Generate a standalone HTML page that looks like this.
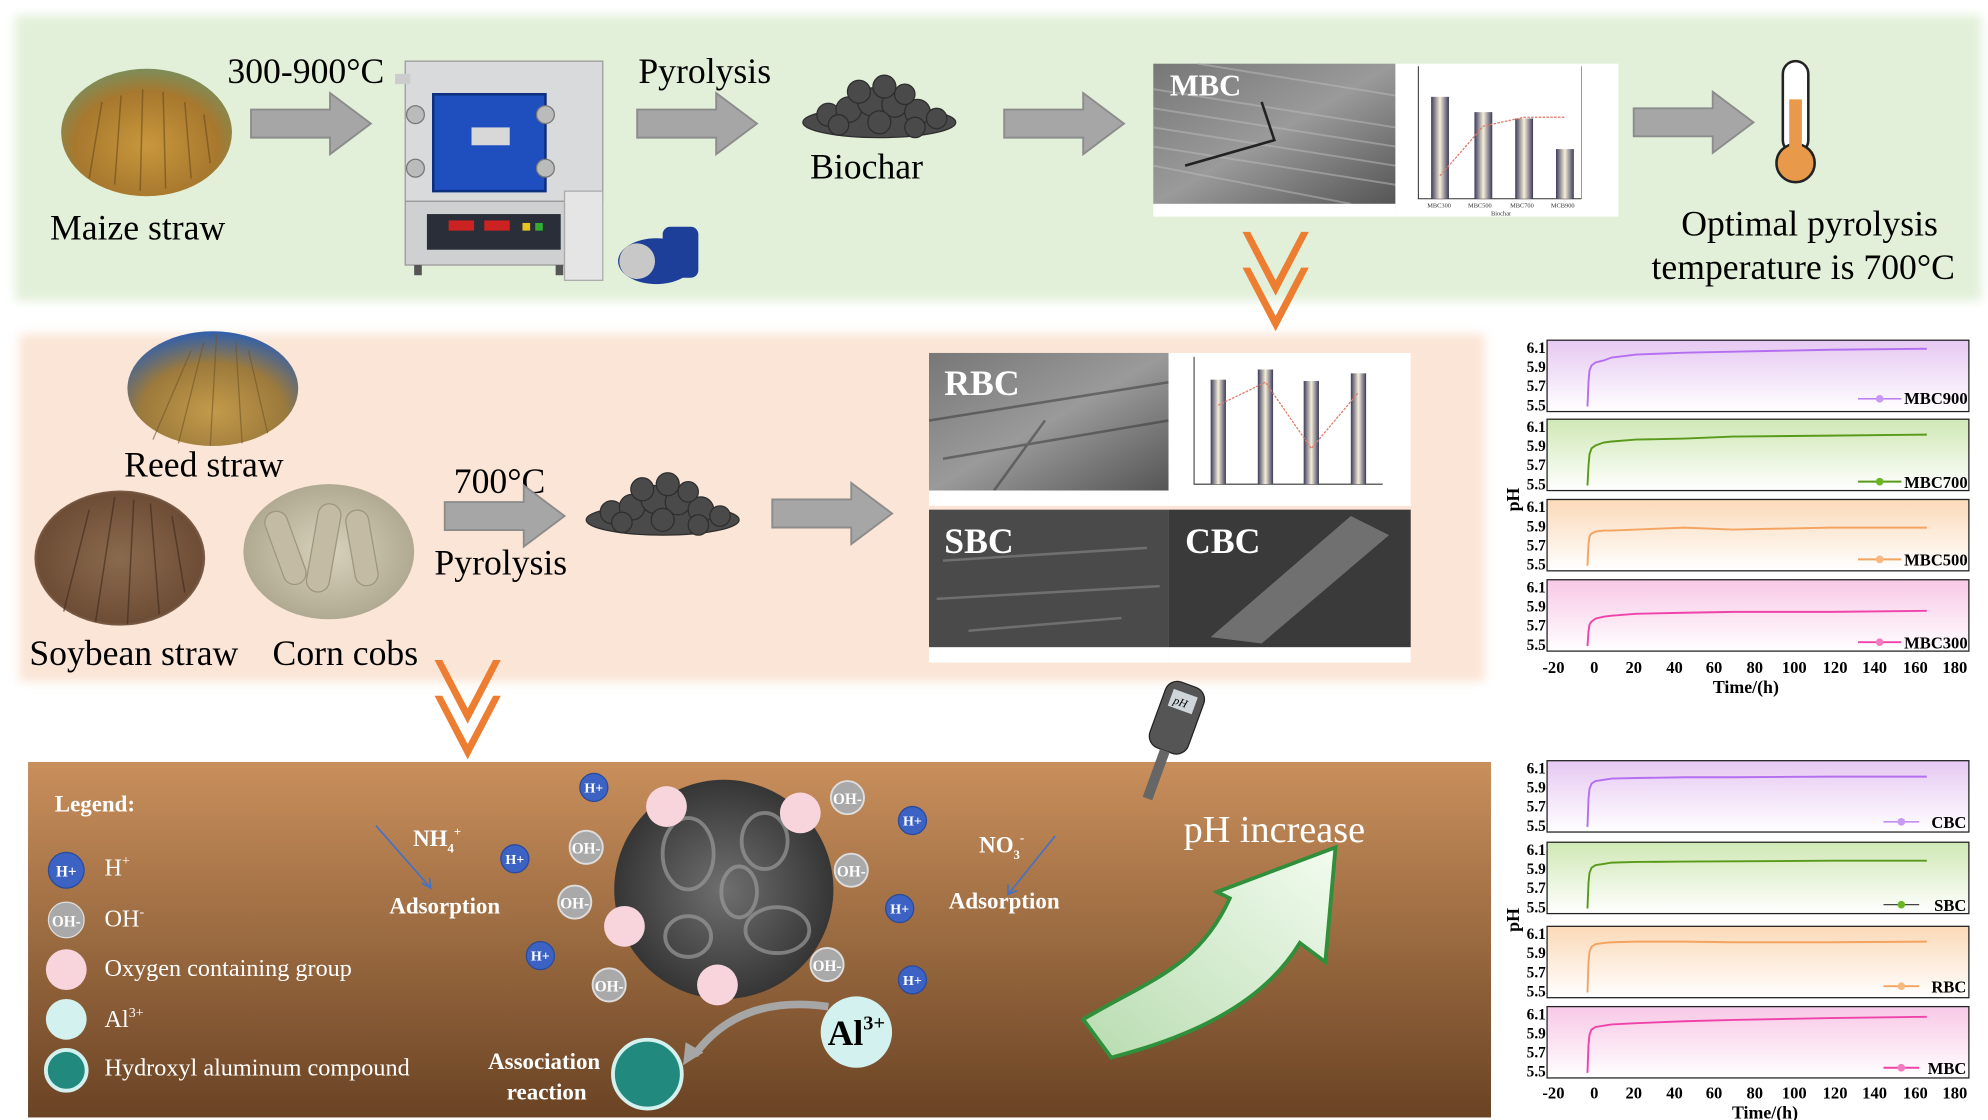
<!DOCTYPE html>
<html><head><meta charset="utf-8"><style>
html,body{margin:0;padding:0;background:#fff;width:1988px;height:1120px;overflow:hidden}
svg{display:block}
text{font-family:"Liberation Serif",serif}
</style></head><body>
<svg width="1988" height="1120" viewBox="0 0 1560 879" preserveAspectRatio="none" xmlns="http://www.w3.org/2000/svg">
<defs>
<filter id="blur" x="-5%" y="-5%" width="110%" height="110%"><feGaussianBlur stdDeviation="4"/></filter>
<linearGradient id="brown" x1="0" y1="0" x2="0" y2="1"><stop offset="0" stop-color="#c98f5c"/><stop offset="0.5" stop-color="#9a6a40"/><stop offset="1" stop-color="#6a4324"/></linearGradient>
<radialGradient id="maize" cx="0.5" cy="0.6" r="0.6"><stop offset="0" stop-color="#c8973c"/><stop offset="0.7" stop-color="#a7782e"/><stop offset="1" stop-color="#7d8d5a"/></radialGradient>
<radialGradient id="reed" cx="0.5" cy="0.7" r="0.7"><stop offset="0" stop-color="#c49a4a"/><stop offset="0.6" stop-color="#9c7a3c"/><stop offset="1" stop-color="#2f5fae"/></radialGradient>
<radialGradient id="soy" cx="0.5" cy="0.5" r="0.6"><stop offset="0" stop-color="#8a6a4e"/><stop offset="0.8" stop-color="#6e4d36"/><stop offset="1" stop-color="#c7bdb3"/></radialGradient>
<radialGradient id="cob" cx="0.5" cy="0.5" r="0.6"><stop offset="0" stop-color="#d8d2bd"/><stop offset="1" stop-color="#a9a28a"/></radialGradient>
<radialGradient id="sem" cx="0.5" cy="0.5" r="0.6"><stop offset="0" stop-color="#6f6f6f"/><stop offset="1" stop-color="#2a2a2a"/></radialGradient>
<linearGradient id="semr" x1="0" y1="0" x2="1" y2="1"><stop offset="0" stop-color="#777"/><stop offset="0.5" stop-color="#9a9a9a"/><stop offset="1" stop-color="#555"/></linearGradient>
<linearGradient id="bar" x1="0" y1="0" x2="1" y2="0"><stop offset="0" stop-color="#3b3b5c"/><stop offset="0.5" stop-color="#f5eed8"/><stop offset="1" stop-color="#3b3b5c"/></linearGradient>
<linearGradient id="gp" x1="0" y1="0" x2="0" y2="1"><stop offset="0" stop-color="#e6c8f2"/><stop offset="1" stop-color="#fff"/></linearGradient>
<linearGradient id="gg" x1="0" y1="0" x2="0" y2="1"><stop offset="0" stop-color="#cfe8b4"/><stop offset="1" stop-color="#fff"/></linearGradient>
<linearGradient id="go" x1="0" y1="0" x2="0" y2="1"><stop offset="0" stop-color="#fbd9b8"/><stop offset="1" stop-color="#fff"/></linearGradient>
<linearGradient id="gk" x1="0" y1="0" x2="0" y2="1"><stop offset="0" stop-color="#f8c8e6"/><stop offset="1" stop-color="#fff"/></linearGradient>
<linearGradient id="garrow" x1="0" y1="1" x2="1" y2="0"><stop offset="0" stop-color="#b8dcb0"/><stop offset="1" stop-color="#f2fbef"/></linearGradient>
<g id="arr"><path d="M0,-11 H62 V-24 L94,0 L62,24 V11 H0 Z" fill="#a6a6a6" stroke="#8c8c8c" stroke-width="1.5"/></g>
<g id="chev"><path d="M0,0 L26,50 L52,0 L46,0 L26,38 L6,0Z" fill="#ed7d31"/><path d="M0,28 L26,78 L52,28 L46,28 L26,66 L6,28Z" fill="#ed7d31"/></g>
<g id="pile"><g fill="#4a4a4a" stroke="#2e2e2e" stroke-width="1">
<ellipse cx="60" cy="36" rx="60" ry="12"/><circle cx="20" cy="30" r="9"/><circle cx="36" cy="26" r="10"/><circle cx="54" cy="20" r="11"/><circle cx="72" cy="22" r="10"/><circle cx="90" cy="28" r="10"/><circle cx="105" cy="33" r="8"/><circle cx="44" cy="12" r="9"/><circle cx="64" cy="8" r="9"/><circle cx="80" cy="14" r="8"/><circle cx="28" cy="38" r="8"/><circle cx="60" cy="36" r="9"/><circle cx="88" cy="40" r="8"/></g></g>
</defs>

<rect x="12" y="12" width="1543" height="224" fill="#e2f0d9" filter="url(#blur)"/>
<rect x="15" y="262" width="1150" height="273" fill="#fbe5d6" filter="url(#blur)"/>
<rect x="22" y="598" width="1148" height="279" fill="url(#brown)"/>

<ellipse cx="115" cy="104" rx="67" ry="50" fill="url(#maize)"/>
<g stroke="#6b4c1c" stroke-width="1.2" opacity="0.6"><path d="M70,140 L80,80 M90,145 L95,75 M110,150 L112,70 M130,148 L128,72 M150,140 L145,80 M165,128 L160,90"/></g>
<text x="108" y="188" font-size="28" text-anchor="middle">Maize straw</text>
<text x="240" y="65" font-size="28" text-anchor="middle">300-900°C</text>
<use href="#arr" x="197" y="97"/>
<rect x="318" y="48" width="155" height="110" fill="#d9dadc" stroke="#9a9a9a"/>
<rect x="310" y="58" width="12" height="8" fill="#ccc"/>
<rect x="340" y="74" width="88" height="76" fill="#1f4fbf" stroke="#0d2f80" stroke-width="2"/>
<rect x="370" y="100" width="30" height="14" fill="#d8d8d8"/>
<circle cx="326" cy="90" r="7" fill="#bbb" stroke="#777"/><circle cx="326" cy="132" r="7" fill="#bbb" stroke="#777"/>
<circle cx="428" cy="90" r="7" fill="#bbb" stroke="#777"/><circle cx="428" cy="132" r="7" fill="#bbb" stroke="#777"/>
<rect x="318" y="158" width="125" height="50" fill="#cfd0d2" stroke="#999"/>
<rect x="335" y="168" width="105" height="28" fill="#2a2e38"/>
<rect x="352" y="173" width="20" height="8" fill="#c22"/><rect x="380" y="173" width="20" height="8" fill="#c22"/><rect x="410" y="175" width="6" height="6" fill="#e8c320"/><rect x="420" y="175" width="6" height="6" fill="#3a3"/>
<rect x="325" y="208" width="6" height="8" fill="#555"/><rect x="436" y="208" width="6" height="8" fill="#555"/>
<rect x="443" y="150" width="30" height="70" fill="#e5e5e5" stroke="#aaa"/>
<ellipse cx="515" cy="205" rx="30" ry="18" fill="#1d3f9a"/><rect x="520" y="178" width="28" height="40" rx="6" fill="#1d3f9a"/><ellipse cx="500" cy="205" rx="14" ry="14" fill="#c8c8c8"/>
<text x="553" y="65" font-size="28" text-anchor="middle">Pyrolysis</text>
<use href="#arr" x="500" y="97"/>
<use href="#pile" x="630" y="60"/>
<text x="680" y="140" font-size="28" text-anchor="middle">Biochar</text>
<use href="#arr" x="788" y="97"/>
<rect x="905" y="50" width="190" height="110" fill="url(#semr)"/>
<g stroke="#bbb" stroke-width="1.5" opacity="0.5"><path d="M905,70 L1095,100 M905,85 L1095,115 M905,100 L1095,130 M905,115 L1095,145 M905,130 L1060,160 M940,50 L1095,75"/></g>
<path d="M990,80 L1000,110 L930,130" stroke="#222" stroke-width="2" fill="none"/>
<rect x="905" y="160" width="190" height="10" fill="#fff"/>
<text x="918" y="75" font-size="24" fill="#fff" font-weight="bold">MBC</text>
<rect x="1095" y="50" width="175" height="120" fill="#fff"/>
<g stroke="#333" stroke-width="0.8" fill="none"><path d="M1113,52 V156 H1241"/></g><path d="M1241,52 V156" stroke="#e08070" stroke-width="0.8"/>
<rect x="1123" y="76" width="14" height="80" fill="url(#bar)"/><rect x="1157" y="88" width="14" height="68" fill="url(#bar)"/><rect x="1189" y="93" width="14" height="63" fill="url(#bar)"/><rect x="1221" y="117" width="14" height="39" fill="url(#bar)"/>
<polyline points="1130,138 1164,99 1196,92 1228,92" fill="none" stroke="#e07a6a" stroke-dasharray="2,1"/>
<g font-size="5" fill="#333"><text x="1120" y="163">MBC300</text><text x="1152" y="163">MBC500</text><text x="1185" y="163">MBC700</text><text x="1217" y="163">MCB900</text><text x="1170" y="169">Biochar</text></g>
<use href="#arr" x="1282" y="96"/>
<rect x="1399" y="48" width="20" height="72" rx="10" fill="#fff" stroke="#222" stroke-width="2"/>
<circle cx="1409" cy="128" r="15" fill="#e89a4a" stroke="#222" stroke-width="2"/>
<rect x="1404" y="78" width="10" height="46" fill="#e89a4a"/>
<text x="1420" y="185" font-size="28" text-anchor="middle">Optimal pyrolysis</text>
<text x="1415" y="219" font-size="28" text-anchor="middle">temperature is 700°C</text>
<use href="#chev" x="975" y="182"/>

<ellipse cx="167" cy="305" rx="67" ry="45" fill="url(#reed)"/>
<g stroke="#6f5526" stroke-width="1" opacity="0.6"><path d="M120,345 L150,275 M140,348 L160,268 M165,350 L170,262 M190,348 L185,268 M210,340 L195,275"/></g>
<text x="160" y="374" font-size="28" text-anchor="middle">Reed straw</text>
<ellipse cx="94" cy="438" rx="67" ry="53" fill="url(#soy)"/>
<g stroke="#3e2a1c" stroke-width="1.2" opacity="0.6"><path d="M50,480 L70,400 M75,488 L90,390 M100,490 L105,392 M125,482 L118,395 M145,465 L135,405"/></g>
<ellipse cx="258" cy="433" rx="67" ry="53" fill="url(#cob)"/>
<g fill="#c3bba4" stroke="#9e967e"><rect x="215" y="400" width="18" height="60" rx="9" transform="rotate(-20 224 430)"/><rect x="245" y="395" width="18" height="70" rx="9" transform="rotate(10 254 430)"/><rect x="275" y="400" width="18" height="60" rx="9" transform="rotate(-10 284 430)"/></g>
<text x="105" y="522" font-size="28" text-anchor="middle">Soybean straw</text>
<text x="271" y="522" font-size="28" text-anchor="middle">Corn cobs</text>
<text x="392" y="387" font-size="28" text-anchor="middle">700°C</text>
<use href="#arr" x="349" y="405"/>
<text x="393" y="451" font-size="28" text-anchor="middle">Pyrolysis</text>
<use href="#pile" x="460" y="372"/>
<use href="#arr" x="606" y="403"/>
<rect x="729" y="277" width="188" height="108" fill="url(#semr)"/>
<g stroke="#333" stroke-width="2" opacity="0.5"><path d="M729,330 L917,300 M740,360 L917,330 M780,385 L820,330"/></g>
<rect x="729" y="385" width="188" height="12" fill="#fff"/>
<text x="741" y="310" font-size="28" fill="#fff" font-weight="bold">RBC</text>
<rect x="917" y="277" width="190" height="120" fill="#fff"/>
<path d="M937,280 V380 H1085" stroke="#333" stroke-width="0.8" fill="none"/>
<rect x="950" y="298" width="12" height="82" fill="url(#bar)"/><rect x="987" y="290" width="12" height="90" fill="url(#bar)"/><rect x="1023" y="299" width="12" height="81" fill="url(#bar)"/><rect x="1060" y="293" width="12" height="87" fill="url(#bar)"/>
<polyline points="956,318 993,300 1029,352 1066,308" fill="none" stroke="#e07a6a" stroke-dasharray="2,1"/>
<rect x="729" y="400" width="188" height="108" fill="#4a4a4a"/>
<g stroke="#888" stroke-width="2" opacity="0.6"><path d="M740,440 L900,430 M735,470 L910,460 M760,495 L880,485"/></g>
<rect x="729" y="508" width="188" height="12" fill="#fff"/>
<rect x="917" y="400" width="190" height="108" fill="#3a3a3a"/>
<path d="M950,500 L1060,405 L1090,420 L990,505Z" fill="#888" opacity="0.7"/>
<rect x="917" y="508" width="190" height="12" fill="#fff"/>
<text x="741" y="434" font-size="28" fill="#fff" font-weight="bold">SBC</text>
<text x="930" y="434" font-size="28" fill="#fff" font-weight="bold">CBC</text>
<use href="#chev" x="341" y="518"/>
<g transform="rotate(20 920 570)"><rect x="905" y="535" width="32" height="55" rx="10" fill="#555" stroke="#222"/><rect x="911" y="542" width="20" height="14" fill="#cfd6da"/><text x="914" y="553" font-size="9" font-style="italic">pH</text><rect x="917" y="590" width="8" height="40" fill="#666"/></g>

<g font-size="19" fill="#fff">
<text x="43" y="637" font-weight="bold" font-size="18">Legend:</text>
<text x="82" y="687">H<tspan font-size="11" dy="-8">+</tspan></text>
<text x="82" y="727">OH<tspan font-size="11" dy="-8">-</tspan></text>
<text x="82" y="766">Oxygen containing group</text>
<text x="82" y="806">Al<tspan font-size="11" dy="-8">3+</tspan></text>
<text x="82" y="844">Hydroxyl aluminum compound</text>
</g>
<g>
<circle cx="52" cy="683" r="14" fill="#3c63c4" stroke="#2a4a9a"/><text x="52" y="688" font-size="12" fill="#fff" text-anchor="middle" font-weight="bold">H+</text>
<circle cx="52" cy="722" r="14" fill="#a9a9a9" stroke="#ddd"/><text x="52" y="727" font-size="12" fill="#fff" text-anchor="middle" font-weight="bold">OH-</text>
<circle cx="52" cy="761" r="16" fill="#f8d5dd"/>
<circle cx="52" cy="800" r="16" fill="#d3f1ee"/>
<circle cx="52" cy="840" r="16" fill="#22897e" stroke="#d3f1ee" stroke-width="3"/>
</g>
<circle cx="568" cy="698" r="86" fill="url(#sem)"/>
<g fill="none" stroke="#999" stroke-width="3" opacity="0.7"><ellipse cx="540" cy="670" rx="20" ry="28"/><ellipse cx="600" cy="660" rx="18" ry="22"/><ellipse cx="610" cy="730" rx="25" ry="18"/><ellipse cx="540" cy="735" rx="18" ry="16"/><ellipse cx="580" cy="700" rx="14" ry="20"/></g>
<g fill="#f8d5dd"><circle cx="523" cy="633" r="16"/><circle cx="628" cy="638" r="16"/><circle cx="490" cy="727" r="16"/><circle cx="563" cy="773" r="16"/></g>
<g fill="#a9a9a9" stroke="#ddd" stroke-width="1.5"><circle cx="665" cy="626" r="13"/><circle cx="460" cy="665" r="13"/><circle cx="668" cy="683" r="13"/><circle cx="451" cy="708" r="13"/><circle cx="649" cy="757" r="13"/><circle cx="478" cy="773" r="13"/></g>
<g font-size="12" fill="#fff" text-anchor="middle" font-weight="bold"><text x="665" y="631">OH-</text><text x="460" y="670">OH-</text><text x="668" y="688">OH-</text><text x="451" y="713">OH-</text><text x="649" y="762">OH-</text><text x="478" y="778">OH-</text></g>
<g fill="#3c63c4" stroke="#2a4a9a"><circle cx="466" cy="618" r="11"/><circle cx="716" cy="644" r="11"/><circle cx="404" cy="674" r="11"/><circle cx="706" cy="713" r="11"/><circle cx="424" cy="750" r="11"/><circle cx="716" cy="769" r="11"/></g>
<g font-size="11" fill="#fff" text-anchor="middle" font-weight="bold"><text x="466" y="622">H+</text><text x="716" y="648">H+</text><text x="404" y="678">H+</text><text x="706" y="717">H+</text><text x="424" y="754">H+</text><text x="716" y="773">H+</text></g>
<g font-size="18" fill="#fff" font-weight="bold" text-anchor="middle">
<text x="343" y="664">NH<tspan font-size="10" dy="5">4</tspan><tspan font-size="10" dy="-13">+</tspan></text>
<text x="349" y="717">Adsorption</text>
<text x="786" y="669">NO<tspan font-size="10" dy="5">3</tspan><tspan font-size="10" dy="-13">-</tspan></text>
<text x="788" y="713">Adsorption</text>
<text x="427" y="839">Association</text>
<text x="429" y="863">reaction</text>
</g>
<g stroke="#4472c4" stroke-width="1.3" fill="none"><path d="M295,648 L338,697 M331,693 L338,697 L337,689"/><path d="M828,656 L791,702 M791,694 L791,702 L798,699"/></g>
<path d="M650,790 Q580,780 545,828" stroke="#a6a6a6" stroke-width="6" fill="none"/>
<path d="M536,836 L538,818 L552,826Z" fill="#a6a6a6"/>
<circle cx="672" cy="810" r="28" fill="#d3f1ee"/>
<text x="672" y="820" font-size="28" font-weight="bold" text-anchor="middle">Al<tspan font-size="16" dy="-12">3+</tspan></text>
<circle cx="508" cy="843" r="27" fill="#22897e" stroke="#d3f1ee" stroke-width="3"/>
<text x="1000" y="661" font-size="30" fill="#fff" text-anchor="middle">pH increase</text>
<path d="M850,800 C900,770 940,760 965,705 L955,700 L1048,665 L1040,755 L1020,740 C990,790 930,815 872,830 Z" fill="url(#garrow)" stroke="#2f8f3a" stroke-width="3"/>

<g font-size="12" font-weight="bold" text-anchor="end">
<g transform="translate(1196,267)"><rect x="18" width="331" height="56" fill="url(#gp)" stroke="#222"/><text x="17" y="10">6.1</text><text x="17" y="25">5.9</text><text x="17" y="40">5.7</text><text x="17" y="55">5.5</text><polyline transform="translate(-6,0)" points="55.7,52 56.5,32.8 57.3,23.6 58.9,19.8 62,17.5 68.4,15.9 74.7,13.6 93.7,11.3 131.8,9.8 169.8,9 245.9,7.5 322,6.7" fill="none" stroke="#b36ff0" stroke-width="1.5"/><path d="M262,46 H296" stroke="#b36ff0"/><circle cx="279" cy="46" r="3" fill="#c99af5"/><text x="348" y="50" font-size="13">MBC900</text></g>
<g transform="translate(1196,329)"><rect x="18" width="331" height="56" fill="url(#gg)" stroke="#222"/><text x="17" y="10">6.1</text><text x="17" y="25">5.9</text><text x="17" y="40">5.7</text><text x="17" y="55">5.5</text><polyline transform="translate(-6,0)" points="55.7,52 56.5,36.7 57.3,27.5 58.9,22.9 62,20.6 68.4,18.3 74.7,17.5 93.7,16 131.8,15.2 169.8,13.6 245.9,12.9 322,12.1" fill="none" stroke="#5a9a1a" stroke-width="1.5"/><path d="M262,49 H296" stroke="#5a9a1a" stroke-width="1.5"/><circle cx="279" cy="49" r="3" fill="#6cb524"/><text x="348" y="54" font-size="13">MBC700</text></g>
<g transform="translate(1196,392)"><rect x="18" width="331" height="56" fill="url(#go)" stroke="#222"/><text x="17" y="10">6.1</text><text x="17" y="25">5.9</text><text x="17" y="40">5.7</text><text x="17" y="55">5.5</text><polyline transform="translate(-6,0)" points="55.7,52 56.5,35.1 57.3,29 58.9,26.7 62,25.2 68.4,24.4 74.7,24.4 93.7,23.6 131.8,22.1 169.8,23.6 245.9,22.1 322,22.1" fill="none" stroke="#f4a460" stroke-width="1.5"/><path d="M262,47 H296" stroke="#f4a460" stroke-width="1.5"/><circle cx="279" cy="47" r="3" fill="#f8b880"/><text x="348" y="52" font-size="13">MBC500</text></g>
<g transform="translate(1196,455)"><rect x="18" width="331" height="56" fill="url(#gk)" stroke="#222"/><text x="17" y="10">6.1</text><text x="17" y="25">5.9</text><text x="17" y="40">5.7</text><text x="17" y="55">5.5</text><polyline transform="translate(-6,0)" points="55.7,52 56.5,40.5 57.3,35.1 58.9,32.8 62,30.5 68.4,29 74.7,28.2 93.7,26.7 131.8,25.9 169.8,25.2 245.9,25.2 322,24.4" fill="none" stroke="#ee44aa" stroke-width="1.5"/><path d="M262,49 H296" stroke="#ee44aa" stroke-width="1.5"/><circle cx="279" cy="49" r="3" fill="#f27cc0"/><text x="348" y="54" font-size="13">MBC300</text></g>

<g transform="translate(1196,597)"><rect x="18" width="331" height="56" fill="url(#gp)" stroke="#222"/><text x="17" y="10">6.1</text><text x="17" y="25">5.9</text><text x="17" y="40">5.7</text><text x="17" y="55">5.5</text><polyline transform="translate(-6,0)" points="55.7,52 56.5,30 57.3,22 58.9,18 62,16 68.4,15 74.7,14 93.7,13.6 131.8,13 169.8,13 245.9,12.5 322,12.5" fill="none" stroke="#b36ff0" stroke-width="1.5"/><path d="M282,48 H310" stroke="#b36ff0"/><circle cx="296" cy="48" r="3" fill="#c99af5"/><text x="347" y="53" font-size="13">CBC</text></g>
<g transform="translate(1196,661)"><rect x="18" width="331" height="56" fill="url(#gg)" stroke="#222"/><text x="17" y="10">6.1</text><text x="17" y="25">5.9</text><text x="17" y="40">5.7</text><text x="17" y="55">5.5</text><polyline transform="translate(-6,0)" points="55.7,52 56.5,32 57.3,24 58.9,20 62,18 68.4,17 74.7,16 93.7,15.5 131.8,15.2 169.8,15 245.9,14.5 322,14.5" fill="none" stroke="#5a9a1a" stroke-width="1.5"/><path d="M282,49 H310" stroke="#444"/><circle cx="296" cy="49" r="3" fill="#6cb524"/><text x="347" y="54" font-size="13">SBC</text></g>
<g transform="translate(1196,727)"><rect x="18" width="331" height="56" fill="url(#go)" stroke="#222"/><text x="17" y="10">6.1</text><text x="17" y="25">5.9</text><text x="17" y="40">5.7</text><text x="17" y="55">5.5</text><polyline transform="translate(-6,0)" points="55.7,52 56.5,28 57.3,20 58.9,16 62,14 68.4,13 74.7,12.5 93.7,12 131.8,12 169.8,12.5 245.9,12.5 322,12" fill="none" stroke="#f4a460" stroke-width="1.5"/><path d="M282,47 H310" stroke="#f4a460" stroke-width="1.5"/><circle cx="296" cy="47" r="3" fill="#f8b880"/><text x="347" y="52" font-size="13">RBC</text></g>
<g transform="translate(1196,790)"><rect x="18" width="331" height="56" fill="url(#gk)" stroke="#222"/><text x="17" y="10">6.1</text><text x="17" y="25">5.9</text><text x="17" y="40">5.7</text><text x="17" y="55">5.5</text><polyline transform="translate(-6,0)" points="55.7,52 56.5,30 57.3,22 58.9,18 62,16 68.4,15 74.7,14 93.7,13 131.8,11.5 169.8,10.5 245.9,9 322,8" fill="none" stroke="#ee44aa" stroke-width="1.5"/><path d="M282,48 H310" stroke="#ee44aa" stroke-width="1.5"/><circle cx="296" cy="48" r="3" fill="#f27cc0"/><text x="347" y="53" font-size="13">MBC</text></g>
</g>
<g font-size="13" font-weight="bold" text-anchor="middle">
<text x="1219" y="528">-20</text><text x="1251" y="528">0</text><text x="1282" y="528">20</text><text x="1314" y="528">40</text><text x="1345" y="528">60</text><text x="1377" y="528">80</text><text x="1408" y="528">100</text><text x="1440" y="528">120</text><text x="1471" y="528">140</text><text x="1503" y="528">160</text><text x="1534" y="528">180</text>
<text x="1370" y="544" font-size="14">Time/(h)</text>
<text x="1219" y="862">-20</text><text x="1251" y="862">0</text><text x="1282" y="862">20</text><text x="1314" y="862">40</text><text x="1345" y="862">60</text><text x="1377" y="862">80</text><text x="1408" y="862">100</text><text x="1440" y="862">120</text><text x="1471" y="862">140</text><text x="1503" y="862">160</text><text x="1534" y="862">180</text>
<text x="1385" y="878" font-size="14">Time/(h)</text>
<text x="0" y="0" font-size="14" transform="translate(1192,392) rotate(-90)">pH</text>
<text x="0" y="0" font-size="14" transform="translate(1192,722) rotate(-90)">pH</text>
</g>
</svg>
</body></html>
